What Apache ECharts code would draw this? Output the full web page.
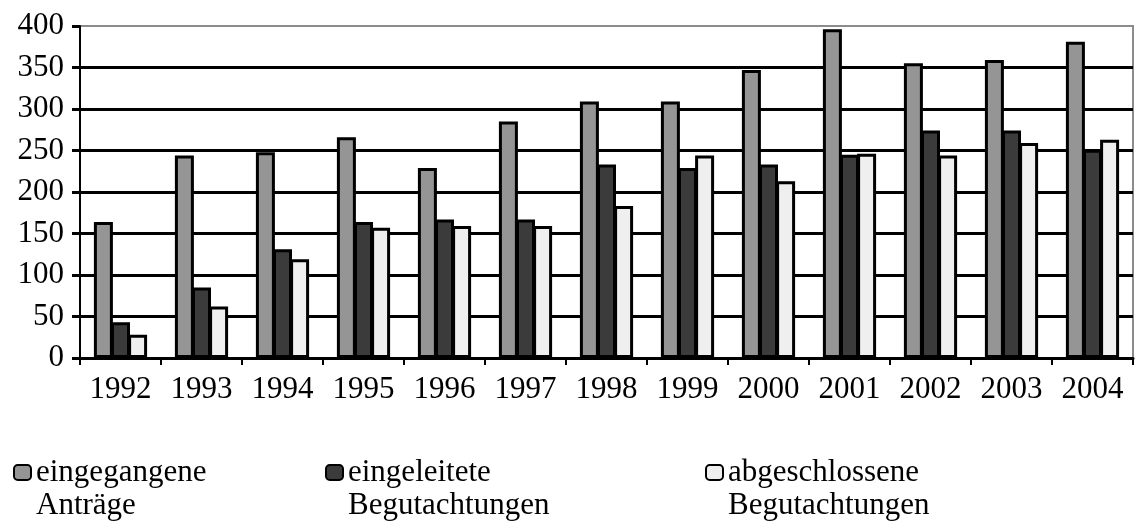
<!DOCTYPE html>
<html>
<head>
<meta charset="utf-8">
<script src="https://cdn.jsdelivr.net/npm/echarts@6/dist/echarts.min.js"></script>
<style>
  html, body { margin: 0; padding: 0; background: #fff; }
  #chart { width: 1136px; height: 524px; }
</style>
</head>
<body>
<div id="chart"></div>
<script>
const years = ["1992", "1993", "1994", "1995", "1996", "1997", "1998", "1999", "2000", "2001", "2002", "2003", "2004"]

// values
const eingegangene = [164, 244, 248, 266, 229, 285, 309, 309, 347, 396, 355, 359, 381]
const eingeleitete = [43, 85, 131, 164, 167, 167, 233, 229, 233, 245, 274, 274, 251]
const abgeschlossene = [28, 62, 119, 157, 159, 159, 183, 244, 213, 246, 244, 259, 263]

const seriesNames = ["eingegangene\nAnträge", "eingeleitete\nBegutachtungen", "abgeschlossene\nBegutachtungen"]
const seriesColors = ["#959595", "#3b3b3b", "#efefef"]

const font = "'Liberation Serif', 'Times New Roman', serif"

const chart = echarts.init(document.getElementById("chart"))

const makeBar = (name, data, color) => ({
  name: name,
  type: "bar",
  data: data,
  barWidth: 19,
  barGap: "-10%",
  itemStyle: {
    color: color,
    borderColor: "#000",
    borderWidth: 3,
  },
})

const legendLeft = [13, 325, 705]

const option = {
  animation: false,
  grid: {
    left: 80,
    right: 3,
    top: 26,
    bottom: 166,
    show: true,
    borderColor: "#8c8c8c",
    borderWidth: 2,
  },
  // one legend per series so they sit where the original has them;
  // leading blank line keeps the icon level with the first text line
  legend: seriesNames.map((n, i) => ({
    data: [n],
    left: legendLeft[i],
    top: 423,
    padding: 0,
    itemWidth: 17,
    itemHeight: 15,
    itemGap: 0,
    formatter: name => "\n" + name,
    textStyle: {
      fontFamily: font,
      fontSize: 31,
      color: "#000",
      lineHeight: 33,
    },
  })),
  xAxis: {
    type: "category",
    data: years,
    axisLine: { lineStyle: { color: "#000", width: 3 } },
    axisTick: { show: true, length: 7, lineStyle: { color: "#000", width: 2 } },
    axisLabel: {
      interval: 0,
      fontFamily: font,
      fontSize: 31,
      color: "#000",
      margin: 16,
    },
  },
  yAxis: {
    type: "value",
    min: 0,
    max: 400,
    interval: 50,
    axisLine: { show: true, lineStyle: { color: "#000", width: 2 } },
    axisTick: { show: true, length: 8, lineStyle: { color: "#000", width: 3 } },
    axisLabel: {
      fontFamily: font,
      fontSize: 31,
      color: "#000",
      margin: 16,
    },
    splitLine: {
      show: true,
      showMaxLine: false,
      lineStyle: { color: "#000", width: 3 },
    },
  },
  series: [
    makeBar(seriesNames[0], eingegangene, seriesColors[0]),
    makeBar(seriesNames[1], eingeleitete, seriesColors[1]),
    makeBar(seriesNames[2], abgeschlossene, seriesColors[2]),
  ],
}

chart.setOption(option)
</script>
</body>
</html>
